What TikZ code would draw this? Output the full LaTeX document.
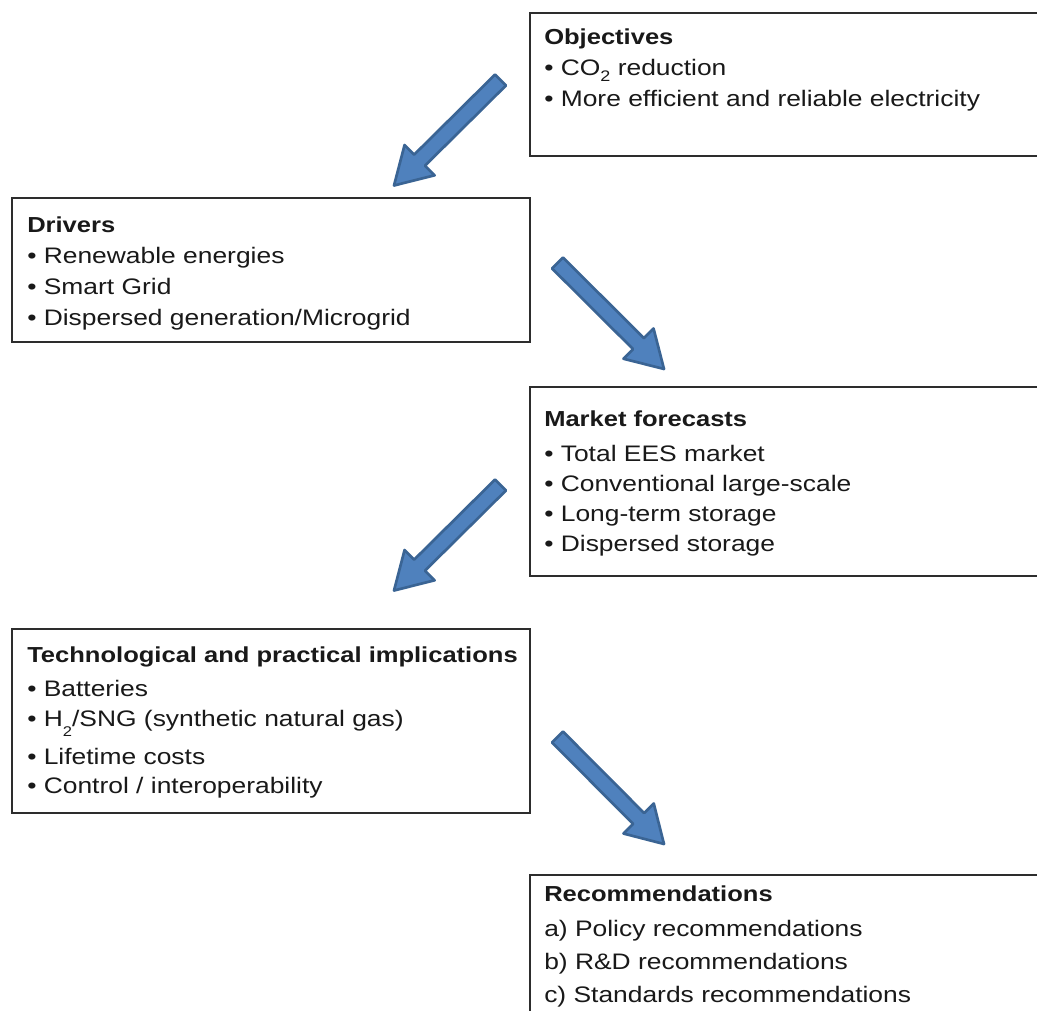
\documentclass[tikz,border=0pt]{standalone}
\usepackage{graphicx}
\usepackage{fontspec}
\setmainfont{Liberation Sans}
\usetikzlibrary{calc}
\definecolor{arrowfill}{RGB}{79,129,189}
\definecolor{arrowline}{RGB}{58,100,148}
\definecolor{boxline}{RGB}{45,45,45}
\newcommand{\vsq}[1]{\scalebox{1}[0.85]{#1}}
\newcommand{\subtwo}[2]{\raisebox{#1}{\fontsize{#2}{#2}\selectfont 2}}
\newcommand{\blockarrow}[2]{%
  \coordinate (#1h) at ($(#2)!27pt!(#1)$);
  \draw[flowarrow] ($(#1)!5.8pt!90:(#2)$) -- ($(#1h)!5.8pt!-90:(#1)$)
    -- ($(#1h)!16pt!-90:(#1)$) -- (#2) -- ($(#1h)!16pt!90:(#1)$)
    -- ($(#1h)!5.8pt!90:(#1)$) -- ($(#1)!5.8pt!-90:(#2)$) -- cycle;}
\tikzset{
  box/.style={draw=boxline, line width=1.5pt, fill=white, rectangle, inner sep=0pt, anchor=north west},
  txt/.style={anchor=base west, inner sep=0pt, font=\fontsize{19.8}{23}\selectfont, text=black!90},
  ttl/.style={anchor=base west, inner sep=0pt, font=\fontsize{19.15}{23}\selectfont\bfseries, text=black!90},
  flowarrow/.style={fill=arrowfill, draw=arrowline, line width=2pt, line join=round}
}
\begin{document}
\begin{tikzpicture}[x=0.75pt, y={(0pt,-0.75pt)}]
\path[use as bounding box] (0,0) rectangle (1037,1010);
\clip (0,0) rectangle (1037,1010);

% boxes
\node[box, minimum width=387.4pt, minimum height=107.25pt] (obj) at (528.5,11.5) {};
\node[box, minimum width=388.5pt, minimum height=108pt] (drv) at (11,197) {};
\node[box, minimum width=387.4pt, minimum height=142.1pt] (mkt) at (528.5,385.5) {};
\node[box, minimum width=388.5pt, minimum height=138pt] (tec) at (11,627.5) {};
\node[box, minimum width=387.4pt, minimum height=117.4pt] (rec) at (528.5,873.5) {};

% Objectives
\node[ttl] (obj0) at (544,44.5) {\vsq{Objectives}};
\node[txt] (obj1) at (544,75.7) {\vsq{• CO\subtwo{-5.3pt}{13.5} reduction}};
\node[txt] (obj2) at (544,106) {\vsq{• More efficient and reliable electricity}};

% Drivers
\node[ttl] (drv0) at (27,232) {\vsq{Drivers}};
\node[txt] (drv1) at (27,263) {\vsq{• Renewable energies}};
\node[txt] (drv2) at (27,294) {\vsq{• Smart Grid}};
\node[txt] (drv3) at (27,325) {\vsq{• Dispersed generation/Microgrid}};

% Market forecasts
\node[ttl] (mkt0) at (544,426.5) {\vsq{Market forecasts}};
\node[txt] (mkt1) at (544,461) {\vsq{• Total EES market}};
\node[txt] (mkt2) at (544,491.5) {\vsq{• Conventional large-scale}};
\node[txt] (mkt3) at (544,521) {\vsq{• Long-term storage}};
\node[txt] (mkt4) at (544,551.5) {\vsq{• Dispersed storage}};

% Technological and practical implications
\node[ttl] (tec0) at (27,662.5) {\vsq{Technological and practical implications}};
\node[txt] (tec1) at (27,696) {\vsq{• Batteries}};
\node[txt] (tec2) at (27,726.5) {\vsq{• H\subtwo{-9pt}{12.4}/SNG (synthetic natural gas)}};
\node[txt] (tec3) at (27,764) {\vsq{• Lifetime costs}};
\node[txt] (tec4) at (27,793.5) {\vsq{• Control / interoperability}};

% Recommendations
\node[ttl] (rec0) at (544,901) {\vsq{Recommendations}};
\node[txt] (rec1) at (544,936) {\vsq{a) Policy recommendations}};
\node[txt] (rec2) at (544,969.5) {\vsq{b) R\&D recommendations}};
\node[txt] (rec3) at (544,1002.5) {\vsq{c) Standards recommendations}};

% arrows
\coordinate (a1t) at (500.5,80);
\coordinate (a1p) at (394,185.5);
\coordinate (a2t) at (557.5,263);
\coordinate (a2p) at (664,369);
\coordinate (a3t) at (500.5,485);
\coordinate (a3p) at (394,590.5);
\coordinate (a4t) at (557.5,737);
\coordinate (a4p) at (664,844);
\blockarrow{a1t}{a1p}
\blockarrow{a2t}{a2p}
\blockarrow{a3t}{a3p}
\blockarrow{a4t}{a4p}
\end{tikzpicture}
\end{document}
